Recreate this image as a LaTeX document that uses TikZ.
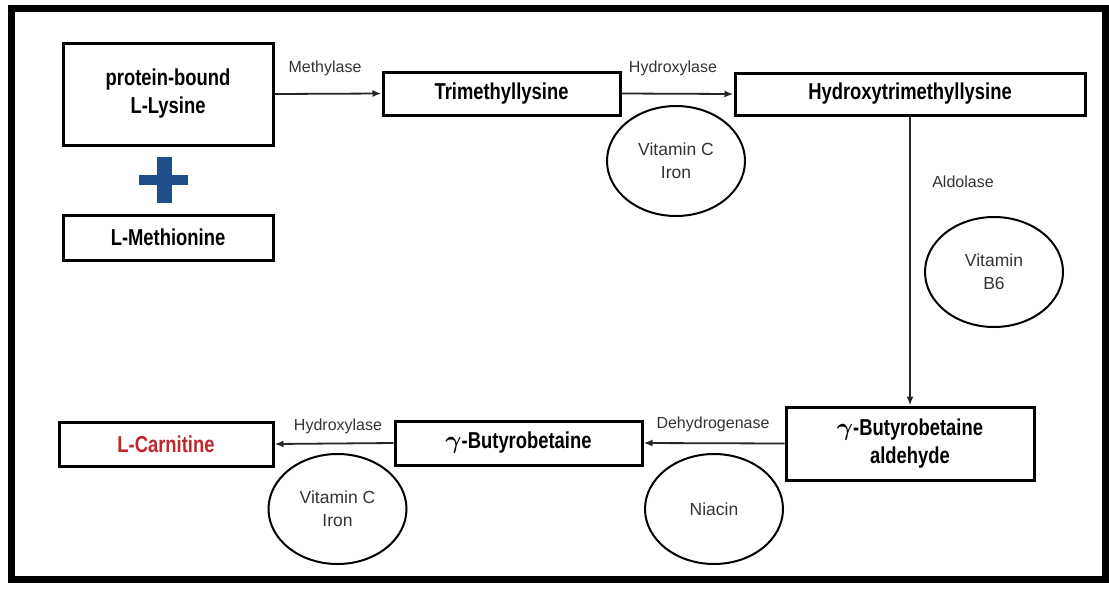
\documentclass[tikz,border=0pt]{standalone}
\usepackage{amsmath,bm}
\usepackage{fontspec}
\setmainfont{Liberation Sans}
\newfontfamily\boxfont[FakeStretch=0.8]{Liberation Sans}
\usetikzlibrary{arrows.meta,shapes.geometric}
\definecolor{plus-blue}{HTML}{1F4E8A}
\definecolor{carnitine-red}{HTML}{C0262C}
\definecolor{label-gray}{HTML}{333333}
\newcommand{\gammabold}{{\fontsize{25}{28}\selectfont$\bm{\gamma}$}}

\begin{document}
\begin{tikzpicture}[x=1pt,y=-1pt,
    every node/.style={inner sep=0pt},
    box/.style n args={2}{draw, line width=3pt, minimum width=#1, minimum height=#2,
      align=center, font=\boxfont\bfseries\fontsize{23}{28}\selectfont},
    vit/.style={draw, ellipse, line width=2pt, minimum width=138, minimum height=110,
      align=center, text=label-gray, font=\fontsize{17.5}{23}\selectfont},
    enz/.style={text=label-gray, font=\fontsize{16}{19}\selectfont},
    flow/.style={-{Latex[length=9pt,width=7pt]}, line width=1.8pt, draw=black!85}]
  \useasboundingbox (0,0) rectangle (1109,590);
  \draw[line width=7pt] (11.5,8.5) rectangle (1105.5,579.5);

  % compounds
  \node[box={210}{102}] (lysine) at (168,94) {protein-bound\\L-Lysine};
  \node[box={210}{45}] (methionine) at (168,237.5) {L-Methionine};
  \node[box={237}{43}] (trimethyl) at (501.5,93.5) {Trimethyllysine};
  \node[box={350}{42}] (hydroxy) at (910,94) {Hydroxytrimethyllysine};
  \node[box={248}{73}] (aldehyde) at (910,443.5) {\gammabold-Butyrobetaine\\aldehyde};
  \node[box={247}{44}] (butyro) at (518.5,443) {\gammabold-Butyrobetaine};
  \node[box={214}{44}, text=carnitine-red] (carnitine) at (166,444) {L-Carnitine};

  % plus sign
  \fill[plus-blue] (139,175) rectangle (188,185);
  \fill[plus-blue] (157,157) rectangle (172,203);

  % cofactors
  \node[vit] (vitc1) at (676,161) {Vitamin C\\Iron};
  \node[vit] (vitb6) at (994,272) {Vitamin\\B6};
  \node[vit] (niacin) at (714,509) {Niacin};
  \node[vit] (vitc2) at (337.5,509) {Vitamin C\\Iron};

  % enzymes
  \node[enz] (methylase) at (325,68) {Methylase};
  \node[enz] (hydroxylase1) at (673,68) {Hydroxylase};
  \node[enz] (aldolase) at (963,182) {Aldolase};
  \node[enz] (dehydrogenase) at (713,424) {Dehydrogenase};
  \node[enz] (hydroxylase2) at (338,426) {Hydroxylase};

  % reactions
  \draw[flow] (lysine.east) -- (trimethyl.west);
  \draw[flow] (trimethyl.east) -- (hydroxy.west);
  \draw[flow] (hydroxy.south) -- (aldehyde.north);
  \draw[flow] (aldehyde.west) -- (butyro.east);
  \draw[flow] (butyro.west) -- (carnitine.east);
\end{tikzpicture}
\end{document}
